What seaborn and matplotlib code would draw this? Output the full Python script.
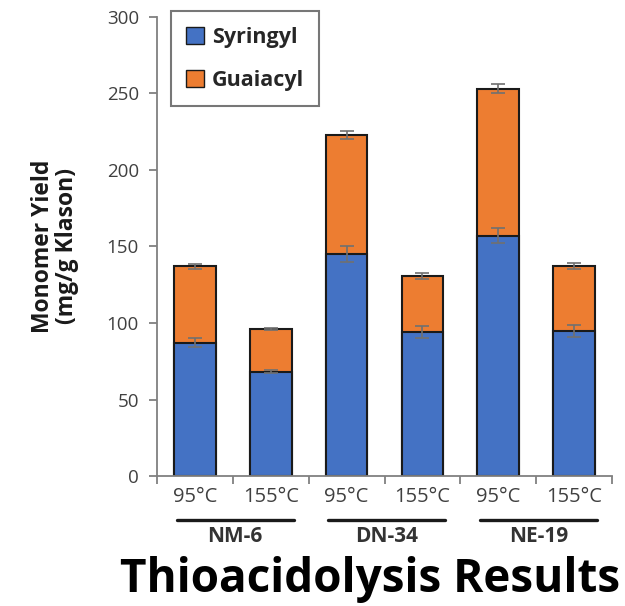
import matplotlib
matplotlib.use("Agg")
import matplotlib.pyplot as plt
import matplotlib.transforms as mtransforms
from matplotlib.patches import Patch
import seaborn as sns
import pandas as pd

# ---- data ----
categories = ["NM-6 95", "NM-6 155", "DN-34 95", "DN-34 155", "NE-19 95", "NE-19 155"]
tick_labels = ["95°C", "155°C", "95°C", "155°C", "95°C", "155°C"]
groups = ["NM-6", "DN-34", "NE-19"]
syringyl = [87, 68, 145, 94, 157, 95]
guaiacyl = [50, 28, 78, 37, 96, 42]
syringyl_err = [3, 1, 5, 4, 5, 4]
total_err = [1.5, 0.5, 2.5, 2, 3, 2]

totals = [s + g for s, g in zip(syringyl, guaiacyl)]
df = pd.DataFrame({"cat": categories, "S": syringyl, "T": totals})

blue = "#4472C4"
orange = "#ED7D31"

sns.set_style("white")
plt.rcParams["font.family"] = ["Open Sans", "DejaVu Sans"]

fig = plt.figure(figsize=(6.25, 6.06), dpi=100)
ax = fig.add_axes([0.2512, 0.2145, 0.728, 0.7575])

sns.barplot(data=df, x="cat", y="T", color=orange, width=0.55, ax=ax,
            edgecolor="#1a1a1a", linewidth=1.5, saturation=1)
sns.barplot(data=df, x="cat", y="S", color=blue, width=0.55, ax=ax,
            edgecolor="#1a1a1a", linewidth=1.5, saturation=1)

xs = list(range(len(categories)))
ax.errorbar(xs, syringyl, yerr=syringyl_err, fmt="none", ecolor="#707070",
            elinewidth=1.2, capsize=5, capthick=1.2)
ax.errorbar(xs, totals, yerr=total_err, fmt="none", ecolor="#707070",
            elinewidth=1.2, capsize=5, capthick=1.2)

ax.set_xlim(-0.5, len(categories) - 0.5)
ax.set_ylim(0, 300)
ax.set_yticks([0, 50, 100, 150, 200, 250, 300])
ax.set_xticks(xs)
ax.set_xticklabels(tick_labels)
ax.set_xlabel("")
ax.set_ylabel("Monomer Yield\n(mg/g Klason)", fontsize=16.5, fontweight="bold",
              color="#1a1a1a", labelpad=20, linespacing=1.0)

for s in ["top", "right"]:
    ax.spines[s].set_visible(False)
for s in ["left", "bottom"]:
    ax.spines[s].set_color("#808080")
    ax.spines[s].set_linewidth(1.3)

ax.tick_params(axis="y", direction="out", length=6, width=1.3, color="#808080",
               labelsize=13.5, labelcolor="#404040", pad=7, left=True)
ax.tick_params(axis="x", which="major", length=0, labelsize=14.5,
               labelcolor="#404040", pad=8)
# minor ticks at category boundaries
ax.set_xticks([i - 0.5 for i in range(len(categories) + 1)], minor=True)
ax.tick_params(axis="x", which="minor", direction="out", length=6, width=1.3,
               color="#808080", bottom=True)

# group underlines and labels
trans = mtransforms.blended_transform_factory(ax.transData, ax.transAxes)
for i, g in enumerate(groups):
    c = 2 * i + 0.53
    ax.plot([c - 0.77, c + 0.77], [-0.095, -0.095], transform=trans,
            color="#1a1a1a", lw=2.4, clip_on=False)
    ax.text(c, -0.108, g, transform=trans, ha="center", va="top",
            fontsize=15, fontweight="bold", color="#333333")

# legend
handles = [Patch(facecolor=blue, edgecolor="#1a1a1a", label="Syringyl"),
           Patch(facecolor=orange, edgecolor="#1a1a1a", label="Guaiacyl")]
leg = ax.legend(handles=handles, loc="upper left", bbox_to_anchor=(0.031, 1.012),
                borderaxespad=0, frameon=True, fancybox=False,
                prop={"weight": "bold", "size": 15.5},
                handlelength=0.85, handleheight=0.85, handletextpad=0.35,
                labelspacing=1.05, borderpad=0.7, edgecolor="#555555")
leg.get_frame().set_linewidth(1.5)

fig.text(0.592, 0.043, "Thioacidolysis Results", ha="center", va="center",
         fontsize=33, fontweight="bold", color="black")

fig.savefig("out.png", dpi=100)
